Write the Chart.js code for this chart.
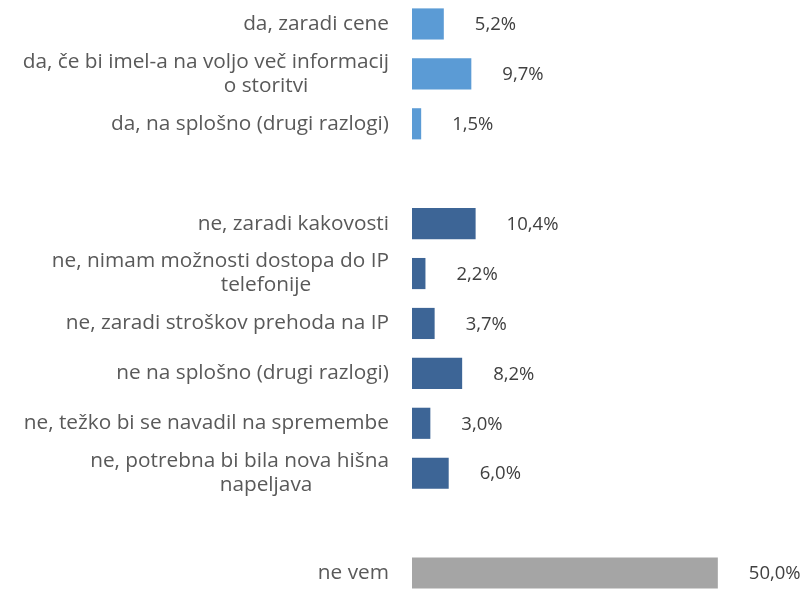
<!DOCTYPE html>
<html>
<head>
<meta charset="utf-8">
<script src="https://cdn.jsdelivr.net/npm/chart.js@4/dist/chart.umd.min.js"></script>
<style>
  html, body { margin: 0; padding: 0; background: #ffffff; }
  #wrap { width: 807px; height: 592px; position: relative; }
</style>
</head>
<body>
<div id="wrap"><canvas id="c" width="807" height="592"></canvas></div>
<script>
// Categories (multi-line labels as arrays; empty strings are spacer rows)
const categories = [
  ["da, zaradi cene"],
  ["da, če bi imel-a na voljo več informacij", "o storitvi"],
  ["da, na splošno (drugi razlogi)"],
  [""],
  ["ne, zaradi kakovosti"],
  ["ne, nimam možnosti dostopa do IP", "telefonije"],
  ["ne, zaradi stroškov prehoda na IP"],
  ["ne na splošno (drugi razlogi)"],
  ["ne, težko bi se navadil na spremembe"],
  ["ne, potrebna bi bila nova hišna", "napeljava"],
  [""],
  ["ne vem"]
];
const values = [5.2, 9.7, 1.5, null, 10.4, 2.2, 3.7, 8.2, 3.0, 6.0, null, 50.0];
const groups = ["da", "da", "da", null, "ne", "ne", "ne", "ne", "ne", "ne", null, "nevem"];
const groupColors = { da: "#5B9BD5", ne: "#3D6596", nevem: "#A5A5A5" };

const labelFont = "20.8px 'Open Sans'";
const valueFont = "18.5px 'Open Sans'";
const textColor = "#595959";

// The plotted band of the reference extends slightly beyond the canvas (top -1, bottom 598)
const extendPlot = {
  id: "extendPlot",
  afterLayout(chart) {
    const y = chart.scales.y;
    y.top = -1;
    y.bottom = 598;
    y.height = 599;
    y.configure();
  }
};

const labelsPlugin = {
  id: "customLabels",
  afterDatasetsDraw(chart) {
    const ctx = chart.ctx;
    const y = chart.scales.y;
    const x = chart.scales.x;
    ctx.save();
    ctx.textBaseline = "middle";
    categories.forEach((lines, i) => {
      const cy = y.getPixelForValue(i);
      const n = lines.length;
      const lh = 24;
      ctx.font = labelFont;
      ctx.fillStyle = textColor;
      lines.forEach((line, j) => {
        const ly = cy + (j - (n - 1) / 2) * lh;
        if (j === 0) {
          ctx.textAlign = "right";
          ctx.fillText(line, 389, ly);
        } else {
          ctx.textAlign = "center";
          ctx.fillText(line, 266, ly);
        }
      });
      const v = values[i];
      if (v !== null) {
        ctx.font = valueFont;
        ctx.textAlign = "left";
        ctx.fillStyle = "#404040";
        ctx.fillText(v.toFixed(1).replace(".", ",") + "%", x.getPixelForValue(v) + 31, cy + 1);
      }
    });
    ctx.restore();
  }
};

new Chart(document.getElementById("c"), {
  type: "bar",
  data: {
    labels: categories.map(l => l.join(" ")),
    datasets: [{
      data: values,
      backgroundColor: groups.map(g => g ? groupColors[g] : "transparent"),
      borderWidth: 0,
      barPercentage: 0.78,
      categoryPercentage: 0.8,
      clip: false
    }]
  },
  options: {
    indexAxis: "y",
    responsive: false,
    animation: false,
    layout: { padding: { left: 412, right: 28, top: 0, bottom: 0 } },
    plugins: {
      legend: { display: false },
      tooltip: { enabled: false }
    },
    scales: {
      x: { display: false, min: 0, max: 60 },
      y: { display: false, offset: true, grid: { display: false } }
    }
  },
  plugins: [extendPlot, labelsPlugin]
});
</script>
</body>
</html>
